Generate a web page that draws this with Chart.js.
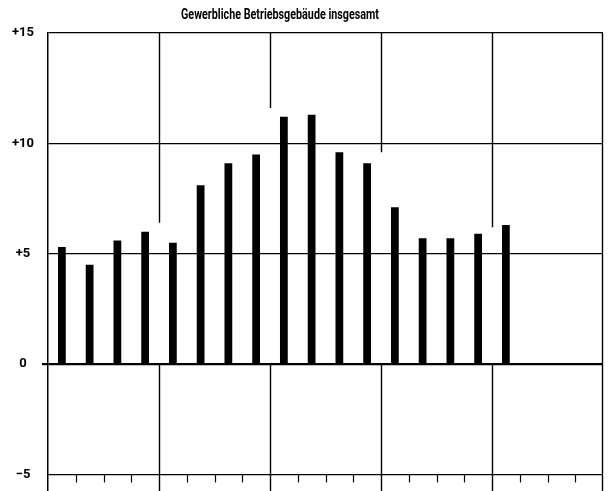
<!DOCTYPE html>
<html>
<head>
<meta charset="utf-8">
<script src="https://cdn.jsdelivr.net/npm/chart.js@4/dist/chart.umd.min.js"></script>
<style>
  html, body { margin: 0; padding: 0; background: #fff; }
  #wrap { width: 609px; height: 491px; }
</style>
</head>
<body>
<div id="wrap"><canvas id="grafico"></canvas></div>
<script>
// 20 Zeitabschnitte, davon 17 mit Werten
const perioden = ['1','2','3','4','5','6','7','8','9','10','11','12','13','14','15','16','17','18','19','20'];
const werte = [5.3, 4.5, 5.6, 6.0, 5.5, 8.1, 9.1, 9.5, 11.2, 11.3, 9.6, 9.1, 7.1, 5.7, 5.7, 5.9, 6.3, null, null, null];
const yTicks = [-5, 0, 5, 10, 15];
// senkrechte Linien nach je 4 Abschnitten, oben nur bis zu diesem Wert gezogen
const trennIndex = [4, 8, 12, 16];
const trennBis = [6.4, 11.6, 9.6, 6.2];
const titel = 'Gewerbliche Betriebsgebäude insgesamt';

const linien = {
    id: 'linien',
    afterDatasetsDraw(chart) {
        const c = chart.ctx;
        const a = chart.chartArea;
        const y = chart.scales.y;
        const schritt = (a.right - a.left) / perioden.length;
        c.save();
        c.strokeStyle = '#000';
        c.lineWidth = 1.4;
        // rechter Rand
        c.beginPath();
        c.moveTo(a.right - 0.5, a.top);
        c.lineTo(a.right - 0.5, a.bottom);
        c.stroke();
        // Trennlinien
        trennIndex.forEach((idx, i) => {
            const px = Math.round(a.left + schritt * idx) + 0.5;
            c.beginPath();
            c.moveTo(px, a.top);
            c.lineTo(px, y.getPixelForValue(trennBis[i]));
            c.moveTo(px, y.getPixelForValue(0));
            c.lineTo(px, a.bottom);
            c.stroke();
        });
        // kleine Striche unter der -5 Linie
        const yb = y.getPixelForValue(-5);
        c.lineWidth = 1.2;
        for (let i = 1; i < perioden.length; i++) {
            if (i % 4 === 0) continue;
            const px = Math.round(a.left + schritt * i) + 0.5;
            c.beginPath();
            c.moveTo(px, yb);
            c.lineTo(px, yb + 8);
            c.stroke();
        }
        // Titel
        c.fillStyle = '#000';
        c.font = 'bold 14px Roboto, sans-serif';
        c.textAlign = 'center';
        c.textBaseline = 'middle';
        c.fillText(titel, 280, 15, 198);
        c.restore();
    }
};

new Chart(document.getElementById('grafico').getContext('2d'), {
    type: 'bar',
    data: {
        labels: perioden,
        datasets: [{
            data: werte,
            backgroundColor: '#000',
            barPercentage: 0.28,
            categoryPercentage: 1
        }]
    },
    options: {
        responsive: true,
        maintainAspectRatio: false,
        animation: false,
        layout: { padding: { top: 33, right: 6, bottom: 0, left: 0 } },
        plugins: { legend: { display: false }, tooltip: { enabled: false } },
        scales: {
            x: { display: false },
            y: {
                min: -5.75,
                max: 15,
                afterBuildTicks: (s) => { s.ticks = yTicks.map(v => ({ value: v })); },
                afterFit: (s) => { s.width = 48; s.paddingTop = 0; s.paddingBottom = 0; },
                border: { display: true, color: '#000', width: 1.5 },
                grid: {
                    color: '#000',
                    lineWidth: (ctx) => ctx.tick && ctx.tick.value === 0 ? 2.2 : 1.3,
                    tickColor: (ctx) => ctx.tick && ctx.tick.value === 0 ? '#000' : 'rgba(0,0,0,0)',
                    tickLength: 6
                },
                ticks: {
                    color: '#000',
                    padding: 8,
                    crossAlign: 'center',
                    font: { family: 'Roboto, sans-serif', size: 13, weight: 'bold' },
                    callback: (v) => v > 0 ? '+' + v : (v < 0 ? '\u2212' + Math.abs(v) : '' + v)
                }
            }
        }
    },
    plugins: [linien]
});
</script>
</body>
</html>
